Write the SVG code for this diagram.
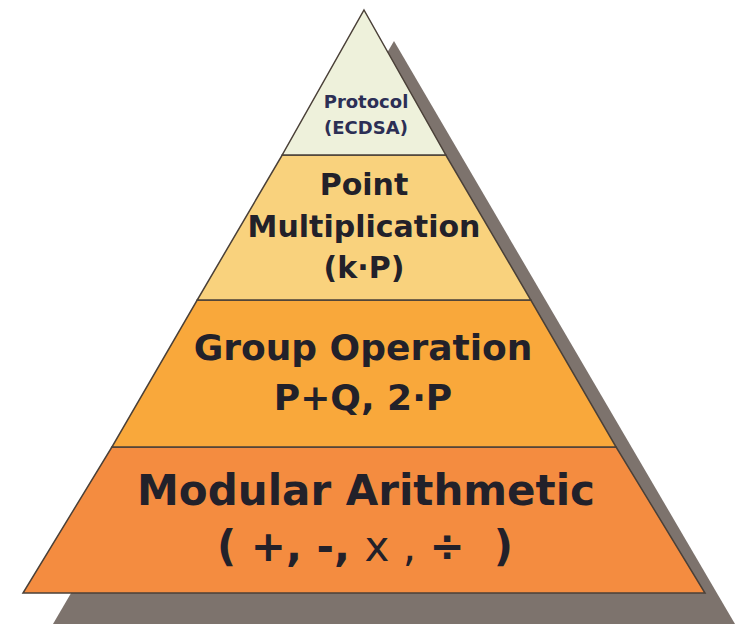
<svg xmlns="http://www.w3.org/2000/svg" width="744" height="626" viewBox="0 0 744 626">
<style>
.t{font-family:"DejaVu Sans","Verdana",sans-serif;font-weight:bold;fill:#22212a;text-anchor:middle}
.band{stroke:#4a4038;stroke-width:1.5;stroke-linejoin:miter}
</style>
<rect width="744" height="626" fill="#ffffff"/>
<g id="shadow">
<polygon points="394,41 735,624 53,624" fill="#7d736d"/>
</g>
<g id="layer-modular">
<polygon class="band" points="111.9,447 616.1,447 705,593 23,593" fill="#f48c40"/>
<text class="t" x="366" y="505" font-size="42">Modular Arithmetic</text>
<text class="t" x="365" y="561" font-size="42" xml:space="preserve">( +, -, <tspan font-weight="normal">x , </tspan>÷  )</text>
</g>
<g id="layer-group">
<polygon class="band" points="197.2,300 530.8,300 616.1,447 111.9,447" fill="#f9a83b"/>
<text class="t" x="363" y="360" font-size="36">Group Operation</text>
<text class="t" x="363" y="410" font-size="36">P+Q, 2·P</text>
</g>
<g id="layer-point">
<polygon class="band" points="282.2,155 445.8,155 530.8,300 197.2,300" fill="#f9d27d"/>
<text class="t" x="364" y="195" font-size="30">Point</text>
<text class="t" x="364" y="237" font-size="30">Multiplication</text>
<text class="t" x="364" y="278" font-size="30">(k·P)</text>
</g>
<g id="layer-protocol">
<polygon class="band" points="364,10 445.8,155 282.2,155" fill="#eef1db"/>
<text class="t" x="366" y="108" font-size="18" style="fill:#2c2f55">Protocol</text>
<text class="t" x="366" y="134" font-size="18" style="fill:#2c2f55">(ECDSA)</text>
</g>
</svg>
